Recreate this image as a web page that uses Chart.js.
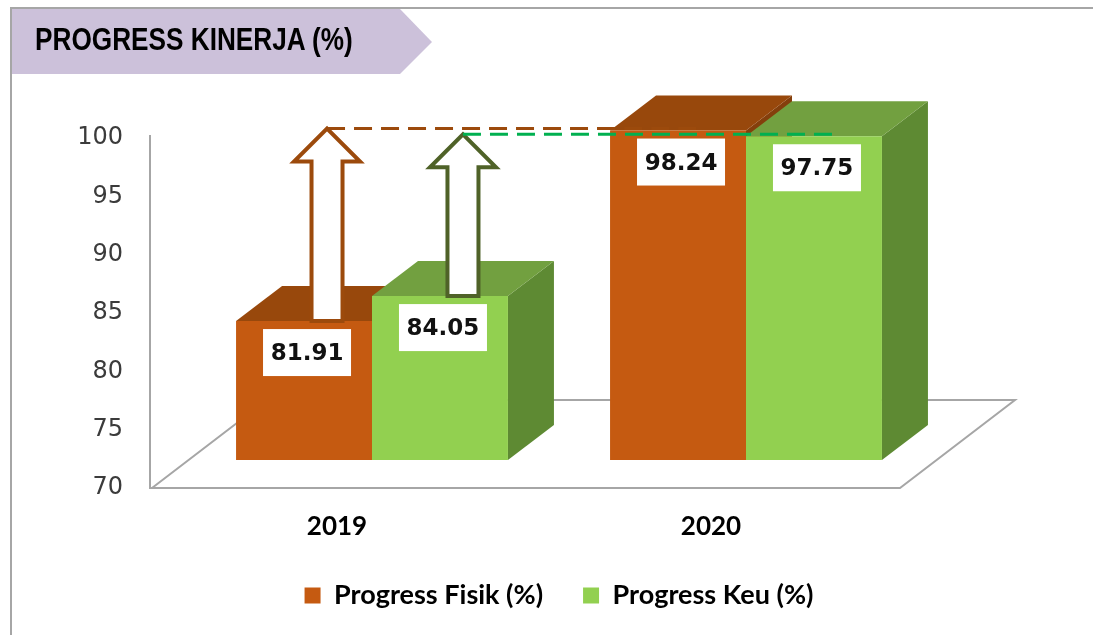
<!DOCTYPE html>
<html lang="id">
<head>
<meta charset="UTF-8">
<title>Progress Kinerja</title>
<style>
  body { margin: 0; background: #fff; }
  #wrap { position: relative; width: 1093px; height: 635px; overflow: hidden; }
  #frame { position: absolute; left: 10px; top: 7px; right: 0; bottom: 0;
           border-top: 2px solid #a6a6a6; border-left: 2px solid #a6a6a6; }
  #judul { position: absolute; left: 12px; top: 9px; width: 420px; height: 65px; background: #ccc1da;
           clip-path: polygon(0 0, 388px 0, 420px 33px, 388px 65px, 0 65px); }
  #judul span { position: absolute; left: 23px; top: 15px; white-space: nowrap; color: #000;
                font: bold 31px/1 'Liberation Sans', sans-serif;
                transform: scaleX(0.845); transform-origin: 0 0; }
  canvas { position: absolute; left: 0; top: 0; }
</style>
</head>
<body>
<div id="wrap">
  <canvas id="grafik" width="1093" height="635"></canvas>
  <div id="frame"></div>
  <div id="judul"><span>PROGRESS KINERJA (%)</span></div>
</div>

<script src="https://cdn.jsdelivr.net/npm/chart.js"></script>
<script>
// data
const tahun = ['2019', '2020']
const progressFisik = [81.91, 98.24]
const progressKeu = [84.05, 97.75]
const tickY = [70, 75, 80, 85, 90, 95, 100]

// warna tiap sisi balok
const warnaFisik = { depan: '#c55a11', atas: '#98480c', samping: '#843f0c', panah: '#9c4a0c' }
const warnaKeu = { depan: '#92d050', atas: '#72a040', samping: '#5e8a33', panah: '#4f6228', garis: '#00b050' }

const DX = 46, DY = 35   // kedalaman balok 3D
const ANGKAT = 2.4       // lantai balok sedikit di atas garis sumbu

// sisi atas / samping balok + lantai
const balok3d = {
  id: 'balok3d',
  beforeDatasetsDraw(chart) {
    const { ctx, chartArea, scales } = chart
    const y0 = scales.y.getPixelForValue(tickY[0])
    const yAtas = scales.y.getPixelForValue(tickY[tickY.length - 1])
    const kiri = chartArea.left - 35, kanan = chartArea.right - 33
    ctx.save()
    ctx.strokeStyle = '#a6a6a6'
    ctx.lineWidth = 2
    ctx.beginPath()
    ctx.moveTo(kiri, yAtas - 3)
    ctx.lineTo(kiri, y0)
    ctx.lineTo(kanan, y0)
    ctx.lineTo(kanan + 115, y0 - 88)
    ctx.lineTo(kiri + 117, y0 - 88)
    ctx.lineTo(kiri + 2, y0)
    ctx.stroke()

    tahun.forEach((_, i) => {
      chart.data.datasets.forEach((ds, d) => {
        const b = chart.getDatasetMeta(d).data[i]
        const l = b.x - b.width / 2, r = b.x + b.width / 2
        ctx.fillStyle = ds.warna.samping
        ctx.beginPath()
        ctx.moveTo(r, b.y); ctx.lineTo(r + DX, b.y - DY)
        ctx.lineTo(r + DX, b.base - DY); ctx.lineTo(r, b.base)
        ctx.closePath(); ctx.fill()
        ctx.fillStyle = ds.warna.atas
        ctx.beginPath()
        ctx.moveTo(l, b.y); ctx.lineTo(l + DX, b.y - DY)
        ctx.lineTo(r + DX, b.y - DY); ctx.lineTo(r, b.y)
        ctx.closePath(); ctx.fill()
      })
    })
    ctx.restore()
  },

  afterDatasetsDraw(chart) {
    const { ctx } = chart
    ctx.save()
    // kotak label nilai
    ctx.font = 'bold 23px "DejaVu Sans"'
    ctx.textAlign = 'center'
    ctx.textBaseline = 'middle'
    chart.data.datasets.forEach((ds, d) => {
      chart.getDatasetMeta(d).data.forEach((b, i) => {
        const cx = b.x + 3, top = b.y + 8
        ctx.fillStyle = '#fff'
        ctx.fillRect(cx - 44, top, 88, 47)
        ctx.fillStyle = '#111'
        ctx.fillText(ds.data[i].toFixed(2), cx, top + 25)
      })
    })

    // panah kenaikan 2019 -> 2020 dan garis putus-putus
    chart.data.datasets.forEach((ds, d) => {
      const [a, b] = chart.getDatasetMeta(d).data
      const cx = a.x + DX / 2, yb = a.y, yt = b.y - 2
      ctx.beginPath()
      ctx.moveTo(cx - 15.5, yb)
      ctx.lineTo(cx - 15.5, yt + 33)
      ctx.lineTo(cx - 33, yt + 33)
      ctx.lineTo(cx, yt)
      ctx.lineTo(cx + 33, yt + 33)
      ctx.lineTo(cx + 15.5, yt + 33)
      ctx.lineTo(cx + 15.5, yb)
      ctx.closePath()
      ctx.fillStyle = '#fff'
      ctx.fill()
      ctx.lineWidth = 4
      ctx.strokeStyle = ds.warna.panah
      ctx.stroke()

      ctx.beginPath()
      ctx.setLineDash([18, 9])
      ctx.lineWidth = 3
      ctx.strokeStyle = ds.warna.garis || ds.warna.panah
      ctx.moveTo(cx, yt)
      ctx.lineTo(b.x + 20, yt)
      ctx.stroke()
      ctx.setLineDash([])
    })
    ctx.restore()
  }
}

const grafik = new Chart(document.getElementById('grafik'), {
  type: 'bar',
  data: {
    labels: tahun,
    datasets: [
      { label: 'Progress Fisik (%)', data: progressFisik, backgroundColor: warnaFisik.depan, warna: warnaFisik,
        yAxisID: 'yb', base: tickY[0], clip: false, barPercentage: 1, categoryPercentage: 0.727 },
      { label: 'Progress Keu (%)', data: progressKeu, backgroundColor: warnaKeu.depan, warna: warnaKeu,
        yAxisID: 'yb', base: tickY[0], clip: false, barPercentage: 1, categoryPercentage: 0.727 }
    ]
  },
  options: {
    responsive: false,
    animation: false,
    layout: { padding: { top: 138, left: 0, right: 160, bottom: 16 } },
    scales: {
      x: {
        grid: { display: false },
        border: { display: false },
        ticks: { color: '#000', font: { family: 'Lato', weight: 'bold', size: 26 }, labelOffset: -35, padding: 15 },
        afterFit: s => { s.height = 54 }
      },
      y: {
        position: 'left',
        min: tickY[0],
        max: tickY[tickY.length - 1],
        grid: { display: false, drawTicks: false },
        border: { display: false },
        ticks: { stepSize: tickY[1] - tickY[0], color: '#3b3b3b', font: { family: 'DejaVu Sans', size: 24 }, padding: 62 },
        afterFit: s => { s.width = 185 }
      },
      yb: {
        display: false,
        min: tickY[0] - ANGKAT,
        max: tickY[tickY.length - 1] - ANGKAT
      }
    },
    plugins: {
      tooltip: { enabled: false },
      legend: {
        position: 'bottom',
        fullSize: false,
        labels: {
          color: '#000',
          font: { family: 'Lato', weight: 'bold', size: 27 },
          boxWidth: 16,
          boxHeight: 16,
          padding: 40
        }
      }
    }
  },
  plugins: [balok3d]
})
</script>
</body>
</html>
